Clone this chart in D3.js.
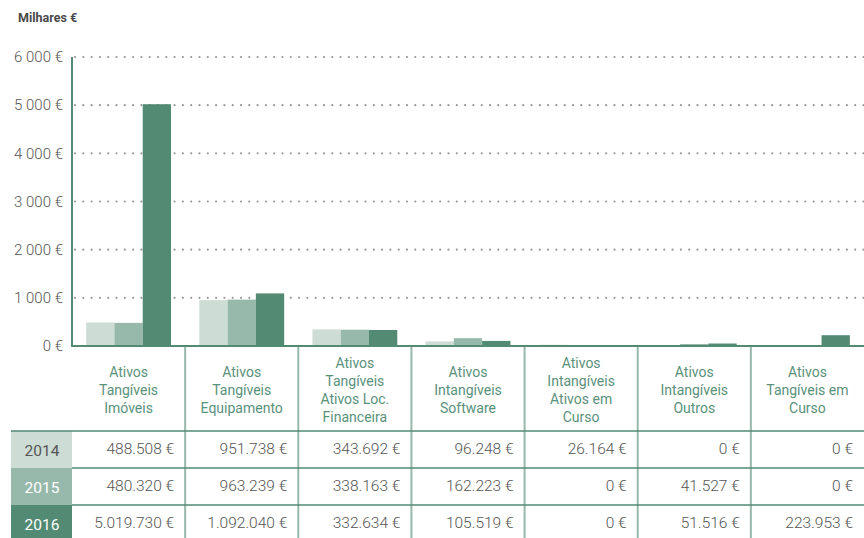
<!DOCTYPE html>
<html><head><meta charset="utf-8">
<script src="https://cdn.jsdelivr.net/npm/d3@7"></script>
<style>
body{margin:0;background:#fff;}
svg{display:block;font-family:Roboto,"Noto Sans",sans-serif;}
</style></head>
<body><svg id="c" width="864" height="538"></svg>
<script>
const categories = [
  ["Ativos","Tangíveis","Imóveis"],
  ["Ativos","Tangíveis","Equipamento"],
  ["Ativos","Tangíveis","Ativos Loc.","Financeira"],
  ["Ativos","Intangíveis","Software"],
  ["Ativos","Intangíveis","Ativos em","Curso"],
  ["Ativos","Intangíveis","Outros"],
  ["Ativos","Tangíveis em","Curso"]
];
const years = ["2014","2015","2016"];
const values2014 = [488508, 951738, 343692, 96248, 26164, 0, 0];
const values2015 = [480320, 963239, 338163, 162223, 0, 41527, 0];
const values2016 = [5019730, 1092040, 332634, 105519, 0, 51516, 223953];
const yTicks = [0, 1000, 2000, 3000, 4000, 5000, 6000];
const colors = ["#cddcd5", "#97b9ab", "#528a73"];
const series = [values2014, values2015, values2016];

const svg = d3.select("#c");
const x0 = 72, x1 = 864, yTop = 57, yBase = 346;

const x = d3.scaleBand().domain(d3.range(categories.length)).range([x0, x1]).padding(0);
const xi = d3.scaleBand().domain(years).range([0, x.bandwidth()]).paddingInner(0).paddingOuter(0.5);
const y = d3.scaleLinear().domain([0, 6000]).range([yBase, yTop]);

const thou = d3.formatLocale({decimal: ",", thousands: " ", grouping: [3], currency: ["", " €"]});
const euro = d3.formatLocale({decimal: ",", thousands: ".", grouping: [3], currency: ["", " €"]});

// title
svg.append("text").attr("x", 18).attr("y", 22).attr("font-size", 12.5).attr("font-weight", 700)
  .attr("fill", "#4a4a4a").text("Milhares €");

// gridlines
svg.append("g").selectAll("line").data(yTicks.filter(d => d > 0)).join("line")
  .attr("x1", x0 + 3).attr("x2", x1).attr("y1", d => y(d)).attr("y2", d => y(d))
  .attr("stroke", "#999").attr("stroke-width", 2.2).attr("stroke-linecap", "round")
  .attr("stroke-dasharray", "0,8.3");

// y axis
const ya = svg.append("g").attr("transform", `translate(${x0},0)`)
  .call(d3.axisLeft(y).tickValues(yTicks).tickSize(0).tickPadding(9)
    .tickFormat(d => thou.format(",")(d) + " €"));
ya.select(".domain").remove();
ya.selectAll("text").attr("font-size", 15).attr("font-weight", 300).attr("fill", "#555").attr("font-family", "Roboto,sans-serif");

// bars
const groups = svg.append("g").selectAll("g").data(categories).join("g")
  .attr("transform", (d, i) => `translate(${x(i)},0)`);
groups.selectAll("rect").data((d, i) => years.map((yr, k) => ({yr, k, v: series[k][i] / 1000})))
  .join("rect")
  .attr("x", d => xi(d.yr)).attr("width", xi.bandwidth())
  .attr("y", d => y(d.v)).attr("height", d => yBase - y(d.v))
  .attr("fill", d => colors[d.k]);

// axis lines
svg.append("line").attr("x1", x0).attr("x2", x0).attr("y1", yTop).attr("y2", yBase + 1)
  .attr("stroke", "#528a73").attr("stroke-width", 2);
svg.append("line").attr("x1", x0).attr("x2", x1).attr("y1", yBase).attr("y2", yBase)
  .attr("stroke", "#528a73").attr("stroke-width", 2);

// column separators
svg.append("g").selectAll("line").data(d3.range(1, categories.length)).join("line")
  .attr("x1", d => x(d)).attr("x2", d => x(d)).attr("y1", yBase + 1).attr("y2", 538)
  .attr("stroke", "#97b9ab").attr("stroke-width", 2);

// category labels
const lh = 18, midY = 390;
groups.append("text").attr("text-anchor", "middle").attr("font-size", 14).attr("fill", "#5a917b")
  .each(function(d) {
    const t = d3.select(this);
    const start = midY - (d.length - 1) * lh / 2;
    d.forEach((line, j) => {
      t.append("tspan").attr("x", x.bandwidth() / 2).attr("y", start + j * lh).attr("dy", "0.35em").text(line);
    });
  });

// table
const rowTop = 431, rowH = 37;
years.forEach((yr, k) => {
  const ry = rowTop + k * rowH;
  svg.append("rect").attr("x", 11).attr("y", ry).attr("width", x0 - 11).attr("height", rowH).attr("fill", colors[k]);
  svg.append("text").attr("x", 42).attr("y", ry + rowH / 2 + 1).attr("dy", "0.35em").attr("text-anchor", "middle")
    .attr("font-size", 15.5).attr("fill", k === 0 ? "#555" : "#fff").text(yr);
  series[k].forEach((v, i) => {
    svg.append("text").attr("x", x(i) + x.bandwidth() - 11).attr("y", ry + rowH / 2 - 1).attr("dy", "0.35em")
      .attr("text-anchor", "end").attr("font-size", 15.5).attr("font-weight", 300).attr("fill", "#555")
      .text(euro.format(",")(v) + " €");
  });
});
svg.append("line").attr("x1", 11).attr("x2", x1).attr("y1", rowTop).attr("y2", rowTop)
  .attr("stroke", "#528a73").attr("stroke-width", 1.5);
[1, 2].forEach(k => {
  svg.append("line").attr("x1", x0).attr("x2", x1).attr("y1", rowTop + k * rowH).attr("y2", rowTop + k * rowH)
    .attr("stroke", "#528a73").attr("stroke-width", 1.5);
});
</script></body></html>
